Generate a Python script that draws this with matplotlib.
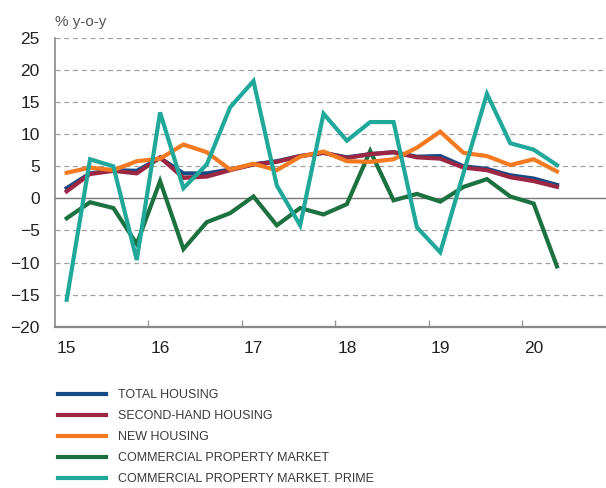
import numpy as np
import matplotlib
matplotlib.use("Agg")
import matplotlib.pyplot as plt

plt.rcParams["font.family"] = ["Liberation Sans", "DejaVu Sans"]

# quarterly, 2015 Q1 .. 2020 Q2
quarters = np.arange(22)
year_labels = ["15", "16", "17", "18", "19", "20"]

total_housing = [1.6, 3.9, 4.4, 4.3, 6.3, 3.9, 3.9, 4.5, 5.3, 5.8, 6.6, 7.1,
                 6.4, 6.9, 7.2, 6.5, 6.6, 5.0, 4.6, 3.6, 3.1, 2.1]
second_hand = [1.1, 3.8, 4.3, 3.9, 6.4, 3.2, 3.4, 4.4, 5.3, 5.7, 6.6, 7.1,
               6.3, 6.9, 7.2, 6.4, 6.2, 4.8, 4.4, 3.3, 2.7, 1.8]
new_housing = [4.0, 4.8, 4.4, 5.8, 6.2, 8.4, 7.2, 4.5, 5.4, 4.4, 6.5, 7.3,
               5.8, 5.7, 6.1, 7.9, 10.4, 7.1, 6.6, 5.2, 6.1, 4.2]
commercial = [-3.1, -0.6, -1.5, -7.1, 2.7, -7.9, -3.7, -2.3, 0.3, -4.2, -1.5, -2.5,
              -0.9, 7.4, -0.3, 0.7, -0.5, 1.8, 3.0, 0.3, -0.8, -10.6]
commercial_prime = [-15.8, 6.1, 5.0, -9.6, 13.4, 1.6, 5.3, 14.2, 18.3, 2.0, -4.2, 13.2,
                    9.0, 11.9, 11.9, -4.5, -8.4, 4.0, 16.3, 8.6, 7.6, 5.2]

series = [
    ("TOTAL HOUSING", total_housing, "#164a84"),
    ("SECOND-HAND HOUSING", second_hand, "#9c2743"),
    ("NEW HOUSING", new_housing, "#f47a21"),
    ("COMMERCIAL PROPERTY MARKET", commercial, "#1c7141"),
    ("COMMERCIAL PROPERTY MARKET. PRIME", commercial_prime, "#20a99a"),
]
zorders = [3, 4, 5, 2, 6]

fig = plt.figure(figsize=(6.06, 4.88), dpi=100)
ax = fig.add_axes([0.0908, 0.3305, 0.9092, 0.5916])

for y in range(-15, 30, 5):
    if y == 0:
        ax.axhline(0, color="#777777", lw=1.0, zorder=1)
    else:
        ax.axhline(y, color="#a0a0a0", lw=0.9, ls=(0, (4, 3)), zorder=1)

handles = []
for (name, vals, col), z in zip(series, zorders):
    h, = ax.plot(quarters, vals, color=col, lw=3, label=name, zorder=z,
                 solid_joinstyle="miter")
    handles.append(h)

ax.set_xlim(-0.5, 23.1)
ax.set_ylim(-20, 25)
ax.set_yticks(range(-20, 30, 5))
ax.tick_params(axis="y", length=0, pad=11, labelsize=12.5, labelcolor="#222222")

ax.set_xticks(np.arange(3.5, 21, 4), minor=False)
ax.set_xticklabels([])
ax.set_xticks(np.arange(0, 22, 4), minor=True)
ax.set_xticklabels(year_labels, minor=True)
ax.tick_params(axis="x", which="major", direction="in", length=5, color="#999999", width=1)
ax.tick_params(axis="x", which="minor", length=0, pad=10, labelsize=12.5, labelcolor="#222222")

for s in ["top", "right"]:
    ax.spines[s].set_visible(False)
ax.spines["left"].set_color("#888888")
ax.spines["left"].set_linewidth(1.2)
ax.spines["bottom"].set_color("#888888")
ax.spines["bottom"].set_linewidth(1.6)

fig.text(0.0908, 0.955, "% y-o-y", fontsize=11, color="#555555", va="center", ha="left")

fig.legend(handles=handles, loc="upper left", bbox_to_anchor=(0.087, 0.213),
           frameon=False, handlelength=3.9, handletextpad=0.95, labelspacing=0.72,
           prop={"family": ["Liberation Sans Narrow", "Liberation Sans"], "size": 9},
           labelcolor="#3a3a3a", borderaxespad=0)

fig.savefig("out.png", dpi=100)
